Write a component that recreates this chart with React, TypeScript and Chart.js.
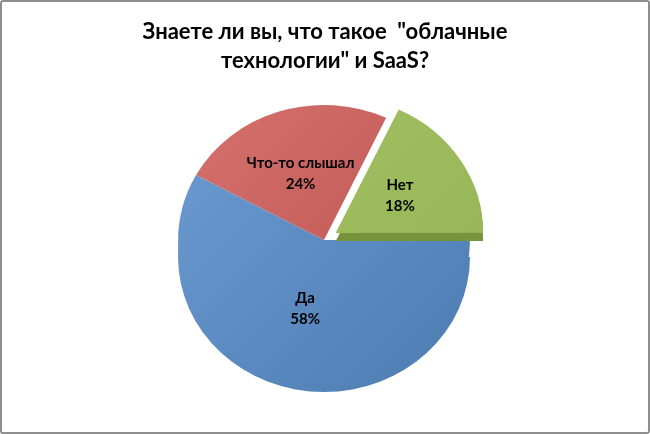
import React, { useEffect, useRef } from 'react';
import { Chart, registerables } from 'chart.js';

Chart.register(...registerables);

const titleLines = ['Знаете ли вы, что такое  "облачные', 'технологии" и SaaS?'];
const categories = ['Да', 'Что-то слышал', 'Нет'];
const percents = [58, 24, 18];
const offsets = [0, 0, 56];
const lightColors = ['#6d9dd3', '#d6736f', '#a6c368'];
const darkColors = ['#4c7bb0', '#b84e4b', '#93b352'];
const sideColors = ['#4c7bb0', '#a34543', '#77933c'];
const sideDepth = [17, 0, 8];

// vertical squash to fake the tilted look of the original
const tilt = 0.925;

export default function App() {
  const canvasRef = useRef<HTMLCanvasElement | null>(null);

  useEffect(() => {
    if (!canvasRef.current) return;

    // path of one slice, following the way Chart.js offsets an arc
    function slicePath(ctx: any, arc: any, i: number, dy: number) {
      const p = arc.getProps(['x', 'y', 'startAngle', 'endAngle', 'outerRadius']);
      const half = (p.startAngle + p.endAngle) / 2;
      const off = offsets[i] / 4;
      const fix = 1 - Math.sin(Math.min(Math.PI, p.endAngle - p.startAngle));
      const x = p.x + Math.cos(half) * off;
      const y = p.y + Math.sin(half) * off + dy;
      ctx.beginPath();
      ctx.moveTo(x, y);
      ctx.arc(x, y, p.outerRadius + off * fix, p.startAngle, p.endAngle);
      ctx.closePath();
    }

    const tiltPlugin = {
      id: 'tilt',
      beforeDatasetsDraw(chart: any) {
        const ctx = chart.ctx;
        const meta = chart.getDatasetMeta(0);
        const first = meta.data[0];
        ctx.save();
        ctx.translate(first.x, first.y);
        ctx.scale(1, tilt);
        ctx.translate(-first.x, -first.y);
        // front side of the blue slice
        slicePath(ctx, first, 0, sideDepth[0] / tilt);
        ctx.fillStyle = first.options.backgroundColor;
        ctx.fill();
      },
      afterDatasetsDraw(chart: any) {
        const ctx = chart.ctx;
        const meta = chart.getDatasetMeta(0);
        const green = meta.data[2];
        // side of the pulled-out slice, then the slice again on top
        slicePath(ctx, green, 2, sideDepth[2] / tilt);
        ctx.fillStyle = sideColors[2];
        ctx.fill();
        green.draw(ctx);
        ctx.restore();

        ctx.save();
        ctx.fillStyle = '#000';
        ctx.font = 'bold 15px Lato, "Open Sans", sans-serif';
        ctx.textAlign = 'center';
        ctx.textBaseline = 'middle';
        meta.data.forEach((arc: any, i: number) => {
          const half = (arc.startAngle + arc.endAngle) / 2;
          const rr = arc.outerRadius * 0.52 + offsets[i] / 4;
          const x = arc.x + Math.cos(half) * rr;
          const y = arc.y + Math.sin(half) * rr * tilt;
          ctx.fillText(categories[i], x, y - 10);
          ctx.fillText(percents[i] + '%', x, y + 11);
        });
        ctx.restore();
      },
    };

    const titlePlugin = {
      id: 'titleText',
      afterDraw(chart: any) {
        const ctx = chart.ctx;
        ctx.save();
        ctx.fillStyle = '#000';
        ctx.font = 'bold 22px Lato, "Open Sans", sans-serif';
        ctx.textAlign = 'center';
        ctx.textBaseline = 'middle';
        titleLines.forEach((line, i) => ctx.fillText(line, 325, 32 + i * 29));
        ctx.restore();
      },
    };

    const chart = new Chart(canvasRef.current, {
      type: 'pie',
      data: {
        labels: categories,
        datasets: [
          {
            data: percents,
            backgroundColor: (c: any) => {
              const area = c.chart.chartArea;
              if (!area) return lightColors[c.dataIndex];
              const g = c.chart.ctx.createLinearGradient(area.left, area.top, area.right, area.bottom);
              g.addColorStop(0, lightColors[c.dataIndex]);
              g.addColorStop(1, darkColors[c.dataIndex]);
              return g;
            },
            borderWidth: 0,
            offset: offsets,
          } as any,
        ],
      },
      options: {
        animation: false,
        responsive: true,
        maintainAspectRatio: false,
        rotation: 90,
        radius: 146,
        layout: { padding: { top: 92, bottom: 46, left: 160, right: 162 } },
        plugins: {
          legend: { display: false },
          title: { display: false },
          tooltip: { enabled: false },
        },
      } as any,
      plugins: [tiltPlugin, titlePlugin],
    });

    return () => {
      chart.destroy();
    };
  }, []);

  return (
    <div style={{ position: 'absolute', left: 0, top: 0, width: 650, height: 434, background: '#fff' }}>
      <canvas ref={canvasRef}></canvas>
      <div
        style={{
          position: 'absolute',
          left: 0,
          top: 0,
          width: 650,
          height: 434,
          boxSizing: 'border-box',
          border: '2px solid #8e8e8e',
          borderRadius: 3,
          pointerEvents: 'none',
        }}
      />
    </div>
  );
}
